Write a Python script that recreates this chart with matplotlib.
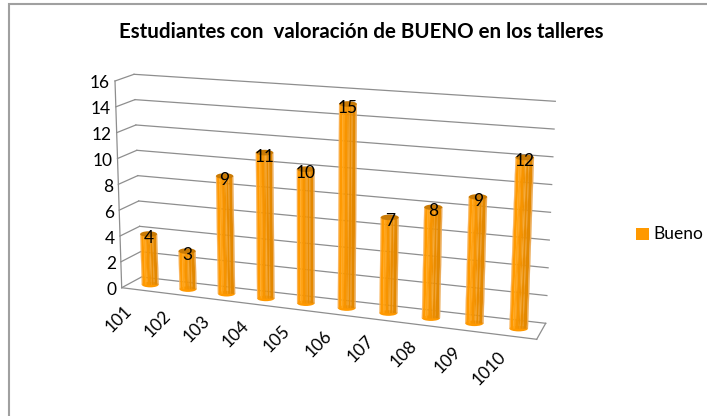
import numpy as np
import matplotlib
matplotlib.use("Agg")
import matplotlib.pyplot as plt
from matplotlib.patches import Rectangle, Ellipse

categories = ['101', '102', '103', '104', '105', '106', '107', '108', '109', '1010']
bueno = [4, 3, 9, 11, 10, 15, 7, 8, 9, 12]
y_ticks = [0, 2, 4, 6, 8, 10, 12, 14, 16]

W, H = 707, 416
plt.rcParams['font.family'] = ['Lato', 'DejaVu Sans']

# corners of the 3d box in pixels: (x fraction, value) on front and back plane
FRONT = {(0, 0): (121.7, 287.7), (0, 1): (115.0, 81.0), (1, 0): (536.7, 339.3), (1, 1): (545.0, 101.0)}
BACK = {(0, 0): (141.5, 277.0), (0, 1): (134.0, 74.3), (1, 0): (545.7, 323.3), (1, 1): (555.3, 101.3)}
VMAX = 16.0
PERSP = 1.105  # foreshortening along the category axis


def project(x, v, d=0.5):
    # bilinear on the two planes, d=0 front, d=1 back
    s = x / (x + PERSP * (1 - x))
    t = v / VMAX
    def plane(c):
        p00, p01, p10, p11 = [np.array(c[k]) for k in [(0, 0), (0, 1), (1, 0), (1, 1)]]
        return (1-s)*(1-t)*p00 + (1-s)*t*p01 + s*(1-t)*p10 + s*t*p11
    return (1-d)*plane(FRONT) + d*plane(BACK)


fig = plt.figure(figsize=(W/100, H/100), dpi=100)
ax = fig.add_axes([0, 0, 1, 1])
ax.set_xlim(0, W)
ax.set_ylim(H, 0)
ax.axis('off')

# only the top and left edges of the chart frame are in the crop
ax.plot([9, 9, W], [H, 4, 4], color='#a0a0a0', lw=1.5, solid_joinstyle='miter')

# walls and gridlines
grid = '#8e8e8e'
for v in y_ticks:
    a, b = project(0, v, 1), project(1, v, 1)
    ax.plot([a[0], b[0]], [a[1], b[1]], color=grid, lw=0.9, zorder=1)
    f = project(0, v, 0)
    ax.plot([f[0], a[0]], [f[1], a[1]], color=grid, lw=0.9, zorder=1)
    ax.text(f[0]-5, f[1]+2.5, str(v), ha='right', va='center', fontsize=12.5, color='black')
f0, f1 = project(0, 0, 0), project(0, VMAX, 0)
ax.plot([f0[0], f1[0]], [f0[1], f1[1]], color=grid, lw=0.9, zorder=1)
fr, br = project(1, 0, 0), project(1, 0, 1)
ax.plot([f0[0], fr[0]], [f0[1], fr[1]], color=grid, lw=0.9, zorder=1)
ax.plot([fr[0], br[0]], [fr[1], br[1]], color=grid, lw=0.9, zorder=1)

# cylinders
strip_pos = [0, 0.06, 0.2, 0.3, 0.34, 0.5, 0.56, 0.6, 0.72, 0.76, 0.94, 1]
strip_col = ['#f9b45c', '#ff9900', '#ffa416', '#ff9900', '#f79400', '#f09000', '#f9a52a',
             '#ea8c00', '#f39a1c', '#e38800', '#ecaa55']
for i, (lab, val) in enumerate(zip(categories, bueno)):
    x = (i + 0.5) / len(categories)
    bot = project(x, 0)
    top = np.array([project(x, val)[0], project(x, val, 0.4)[1]])
    rx = 8.4 + 0.9 * x  # nearer bars are a bit wider
    ry = 2.8
    ax.add_patch(Ellipse(bot, 2*rx, 2*ry, fc='#ff9900', ec='none', zorder=3))
    for p0, p1, c in zip(strip_pos[:-1], strip_pos[1:], strip_col):
        xs = [bot[0]-rx+2*rx*p0, bot[0]-rx+2*rx*p1, top[0]-rx+2*rx*p1, top[0]-rx+2*rx*p0]
        ys = [bot[1], bot[1], top[1], top[1]]
        ax.fill(xs, ys, color=c, lw=0.2, zorder=3)
    ax.add_patch(Ellipse(top, 2*rx, 2*ry, fc='#c97a05', ec='none', zorder=4))
    ax.text(top[0], top[1]+4, str(val), ha='center', va='center', fontsize=12.5, color='black', zorder=5)
    # category label under the front floor edge
    fl = project(x, 0, 0)
    ax.text(fl[0]-16.5, fl[1]+12.5, lab, rotation=45, rotation_mode='anchor', ha='right', va='top',
            fontsize=12.5, color='black')

ax.text(361.5, 32, 'Estudiantes con  valoración de BUENO en los talleres', ha='center', va='center',
        fontsize=14.8, fontweight='bold', color='black')

ax.add_patch(Rectangle((636, 228), 13, 12, fc='#ff9900', ec='none'))
ax.text(653, 234, 'Bueno', ha='left', va='center', fontsize=12.5, color='black')

fig.savefig('out.png', dpi=100)
